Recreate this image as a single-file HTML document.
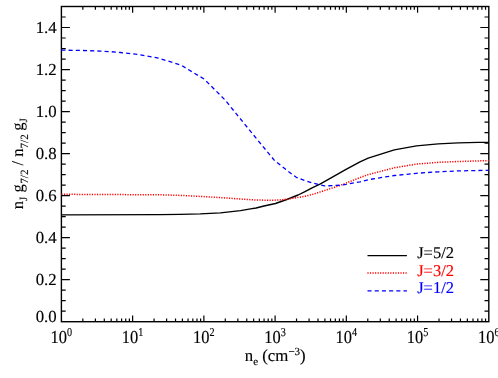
<!DOCTYPE html>
<html><head><meta charset="utf-8"><title>plot</title>
<style>html,body{margin:0;padding:0;background:#fff}svg{display:block;filter:blur(0.25px)}text{font-family:"Liberation Serif",serif;text-rendering:geometricPrecision;fill:currentColor;stroke:currentColor;stroke-width:0.15px;color:#000}</style>
</head><body>
<svg width="498" height="378" viewBox="0 0 498 378">
<rect width="498" height="378" fill="#fff"/>
<path d="M82.84,321.7v-3.2M82.84,6.5v3.2M95.39,321.7v-3.2M95.39,6.5v3.2M104.29,321.7v-3.2M104.29,6.5v3.2M111.19,321.7v-3.2M111.19,6.5v3.2M116.83,321.7v-3.2M116.83,6.5v3.2M121.60,321.7v-3.2M121.60,6.5v3.2M125.73,321.7v-3.2M125.73,6.5v3.2M129.37,321.7v-3.2M129.37,6.5v3.2M132.63,321.7v-6.3M132.63,6.5v6.3M154.08,321.7v-3.2M154.08,6.5v3.2M166.62,321.7v-3.2M166.62,6.5v3.2M175.52,321.7v-3.2M175.52,6.5v3.2M182.42,321.7v-3.2M182.42,6.5v3.2M188.06,321.7v-3.2M188.06,6.5v3.2M192.83,321.7v-3.2M192.83,6.5v3.2M196.96,321.7v-3.2M196.96,6.5v3.2M200.61,321.7v-3.2M200.61,6.5v3.2M203.87,321.7v-6.3M203.87,6.5v6.3M225.31,321.7v-3.2M225.31,6.5v3.2M237.85,321.7v-3.2M237.85,6.5v3.2M246.75,321.7v-3.2M246.75,6.5v3.2M253.66,321.7v-3.2M253.66,6.5v3.2M259.30,321.7v-3.2M259.30,6.5v3.2M264.07,321.7v-3.2M264.07,6.5v3.2M268.20,321.7v-3.2M268.20,6.5v3.2M271.84,321.7v-3.2M271.84,6.5v3.2M275.10,321.7v-6.3M275.10,6.5v6.3M296.54,321.7v-3.2M296.54,6.5v3.2M309.09,321.7v-3.2M309.09,6.5v3.2M317.99,321.7v-3.2M317.99,6.5v3.2M324.89,321.7v-3.2M324.89,6.5v3.2M330.53,321.7v-3.2M330.53,6.5v3.2M335.30,321.7v-3.2M335.30,6.5v3.2M339.43,321.7v-3.2M339.43,6.5v3.2M343.07,321.7v-3.2M343.07,6.5v3.2M346.33,321.7v-6.3M346.33,6.5v6.3M367.78,321.7v-3.2M367.78,6.5v3.2M380.32,321.7v-3.2M380.32,6.5v3.2M389.22,321.7v-3.2M389.22,6.5v3.2M396.12,321.7v-3.2M396.12,6.5v3.2M401.76,321.7v-3.2M401.76,6.5v3.2M406.53,321.7v-3.2M406.53,6.5v3.2M410.66,321.7v-3.2M410.66,6.5v3.2M414.31,321.7v-3.2M414.31,6.5v3.2M417.57,321.7v-6.3M417.57,6.5v6.3M439.01,321.7v-3.2M439.01,6.5v3.2M451.55,321.7v-3.2M451.55,6.5v3.2M460.45,321.7v-3.2M460.45,6.5v3.2M467.36,321.7v-3.2M467.36,6.5v3.2M473.00,321.7v-3.2M473.00,6.5v3.2M477.77,321.7v-3.2M477.77,6.5v3.2M481.90,321.7v-3.2M481.90,6.5v3.2M485.54,321.7v-3.2M485.54,6.5v3.2M61.4,311.19h4.3M488.8,311.19h-4.3M61.4,300.69h4.3M488.8,300.69h-4.3M61.4,290.18h4.3M488.8,290.18h-4.3M61.4,279.67h8.5M488.8,279.67h-8.5M61.4,269.17h4.3M488.8,269.17h-4.3M61.4,258.66h4.3M488.8,258.66h-4.3M61.4,248.15h4.3M488.8,248.15h-4.3M61.4,237.65h8.5M488.8,237.65h-8.5M61.4,227.14h4.3M488.8,227.14h-4.3M61.4,216.63h4.3M488.8,216.63h-4.3M61.4,206.13h4.3M488.8,206.13h-4.3M61.4,195.62h8.5M488.8,195.62h-8.5M61.4,185.11h4.3M488.8,185.11h-4.3M61.4,174.61h4.3M488.8,174.61h-4.3M61.4,164.10h4.3M488.8,164.10h-4.3M61.4,153.59h8.5M488.8,153.59h-8.5M61.4,143.09h4.3M488.8,143.09h-4.3M61.4,132.58h4.3M488.8,132.58h-4.3M61.4,122.07h4.3M488.8,122.07h-4.3M61.4,111.57h8.5M488.8,111.57h-8.5M61.4,101.06h4.3M488.8,101.06h-4.3M61.4,90.55h4.3M488.8,90.55h-4.3M61.4,80.05h4.3M488.8,80.05h-4.3M61.4,69.54h8.5M488.8,69.54h-8.5M61.4,59.03h4.3M488.8,59.03h-4.3M61.4,48.53h4.3M488.8,48.53h-4.3M61.4,38.02h4.3M488.8,38.02h-4.3M61.4,27.51h8.5M488.8,27.51h-8.5M61.4,17.01h4.3M488.8,17.01h-4.3" stroke="#000" stroke-width="1.2" fill="none"/>
<rect x="61.4" y="6.5" width="427.4" height="315.2" fill="none" stroke="#000" stroke-width="1.4"/>
<path d="M61.4,214.8 L160.0,214.6 L180.1,214.3 L200.2,213.9 L220.4,212.8 L240.5,210.6 L250.5,208.9 L256.1,208.0 L264.0,206.0 L275.5,203.5 L286.8,199.5 L298.1,195.0 L304.5,191.8 L312.6,187.7 L320.0,184.2 L346.5,169.2 L360.0,161.8 L368.2,158.2 L394.3,149.8 L416.5,145.8 L438.2,143.8 L458.4,142.8 L478.5,142.4 L488.9,142.4" stroke="#000" stroke-width="1.35" fill="none" stroke-linejoin="round"/>
<path d="M61.4,194.3 L160.0,194.8 L180.1,195.4 L200.2,196.4 L220.4,197.6 L240.5,199.0 L256.1,200.0 L272.3,200.3 L281.9,199.8 L288.4,199.0 L296.5,197.7 L304.5,196.4 L312.6,194.4 L320.4,191.9 L340.5,185.3 L360.0,177.6 L368.2,174.6 L394.3,167.8 L416.5,164.1 L438.2,162.3 L458.4,161.5 L478.5,160.9 L488.9,160.7" stroke="#f00" stroke-width="1.5" fill="none" stroke-dasharray="1.2 1.34" stroke-linejoin="round"/>
<path d="M61.4,50.1 L82.7,50.5 L100.2,51.1 L111.0,51.7 L120.4,52.5 L132.5,53.8 L140.5,54.9 L154.0,57.2 L158.6,58.2 L181.2,65.2 L204.3,79.2 L225.1,100.0 L253.6,135.1 L274.4,160.4 L286.8,170.3 L296.3,177.3 L304.5,180.5 L312.6,182.9 L324.4,185.9 L340.5,185.2 L346.5,184.3 L360.0,181.8 L368.2,179.7 L394.3,175.5 L416.5,173.3 L438.2,171.8 L458.4,170.9 L478.5,170.5 L488.8,170.4" stroke="#00f" stroke-width="1.3" fill="none" stroke-dasharray="4.1 3.1" stroke-linejoin="round"/>
<text x="56.7" y="321.6" font-size="16.8" text-anchor="end">0.0</text>
<text x="56.7" y="285.0" font-size="16.8" text-anchor="end">0.2</text>
<text x="56.7" y="242.9" font-size="16.8" text-anchor="end">0.4</text>
<text x="56.7" y="200.9" font-size="16.8" text-anchor="end">0.6</text>
<text x="56.7" y="158.9" font-size="16.8" text-anchor="end">0.8</text>
<text x="56.7" y="116.9" font-size="16.8" text-anchor="end">1.0</text>
<text x="56.7" y="74.8" font-size="16.8" text-anchor="end">1.2</text>
<text x="56.7" y="32.8" font-size="16.8" text-anchor="end">1.4</text>
<text transform="translate(50.50,343.3) scale(0.90,1)" font-size="18.3">10</text>
<text transform="translate(67.00,335.7) scale(0.84,1)" font-size="12.1">0</text>
<text transform="translate(121.73,343.3) scale(0.90,1)" font-size="18.3">10</text>
<text transform="translate(138.23,335.7) scale(0.84,1)" font-size="12.1">1</text>
<text transform="translate(192.97,343.3) scale(0.90,1)" font-size="18.3">10</text>
<text transform="translate(209.47,335.7) scale(0.84,1)" font-size="12.1">2</text>
<text transform="translate(264.20,343.3) scale(0.90,1)" font-size="18.3">10</text>
<text transform="translate(280.70,335.7) scale(0.84,1)" font-size="12.1">3</text>
<text transform="translate(335.43,343.3) scale(0.90,1)" font-size="18.3">10</text>
<text transform="translate(351.93,335.7) scale(0.84,1)" font-size="12.1">4</text>
<text transform="translate(406.67,343.3) scale(0.90,1)" font-size="18.3">10</text>
<text transform="translate(423.17,335.7) scale(0.84,1)" font-size="12.1">5</text>
<text transform="translate(477.90,343.3) scale(0.90,1)" font-size="18.3">10</text>
<text transform="translate(494.40,335.7) scale(0.84,1)" font-size="12.1">6</text>
<text x="244.8" y="361.1" font-size="16.8">n<tspan font-size="11.0" dy="3.5">e</tspan><tspan dy="-3.5"> (cm</tspan><tspan font-size="11.0" dy="-5.9">−3</tspan><tspan dy="5.9">)</tspan></text>
<text transform="translate(23.0,209.3) rotate(-90)" font-size="16.6">n<tspan font-size="11.0" dy="3.5">J</tspan><tspan dy="-3.5"> g</tspan><tspan font-size="11.0" dy="4.8" dx="0.6">7/2</tspan><tspan dy="-4.8"> / n</tspan><tspan font-size="11.0" dy="4.8">7/2</tspan><tspan dy="-4.8" dx="-0.5"> g</tspan><tspan font-size="11.0" dy="3.5">J</tspan></text>
<path d="M367.5,255.55H406.9" stroke="#000" stroke-width="1.3"/>
<path d="M367.4,273.0H407.1" stroke="#f00" stroke-width="1.5" stroke-dasharray="1.2 1.34"/>
<path d="M367.5,290.85H406.9" stroke="#00f" stroke-width="1.3" stroke-dasharray="4.1 3.1"/>
<text x="417.2" y="258.4" font-size="16.5" style="color:#000">J=5/2</text>
<text x="417.2" y="275.6" font-size="16.5" style="color:#f00">J=3/2</text>
<text x="417.2" y="292.8" font-size="16.5" style="color:#00f">J=1/2</text>
</svg>
</body></html>
